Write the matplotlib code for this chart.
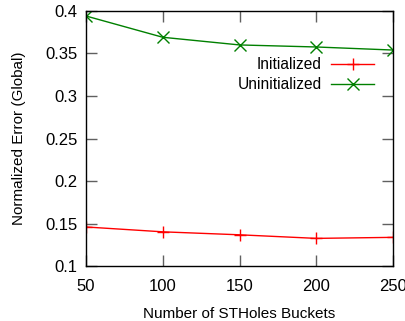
import matplotlib.pyplot as plt

plt.rcParams['font.family'] = ['Liberation Sans', 'DejaVu Sans']

buckets = [50, 100, 150, 200, 250]
initialized = [0.146, 0.1403, 0.1368, 0.1326, 0.1338]
uninitialized = [0.394, 0.369, 0.360, 0.3576, 0.354]

fig = plt.figure(figsize=(4.06, 3.21), dpi=100)
ax = fig.add_axes([0.212, 0.171, 0.756, 0.795])

ax.plot(buckets, initialized, color="#ff0000", lw=1, marker="+", ms=9, mew=1, label="Initialized")
ax.plot(buckets, uninitialized, color="#008000", lw=1, marker="x", ms=8, mew=1, label="Uninitialized")

ax.set_xlim(50, 250)
ax.set_ylim(0.1, 0.4)
ax.set_xticks(buckets)
ax.set_yticks([0.1, 0.15, 0.2, 0.25, 0.3, 0.35, 0.4])
ax.set_yticklabels(["0.1", "0.15", "0.2", "0.25", "0.3", "0.35", "0.4"])
ax.tick_params(direction="in", length=8, width=1, top=True, right=True, labelsize=12, colors="#606060", labelcolor="black")
ax.tick_params(axis="x", pad=9)
ax.tick_params(axis="y", pad=6)
for s in ax.spines.values():
    s.set_linewidth(1)

ax.set_xlabel("Number of STHoles Buckets", fontsize=11, labelpad=10)
ax.set_ylabel("Normalized Error (Global)", fontsize=11, labelpad=14)

ax.legend(loc="upper right", bbox_to_anchor=(0.965, 0.85), frameon=False, markerfirst=False,
          fontsize=11.2, handlelength=2.8, handletextpad=0.6, labelspacing=0.35, borderpad=0)

fig.savefig("out.png", dpi=100)
